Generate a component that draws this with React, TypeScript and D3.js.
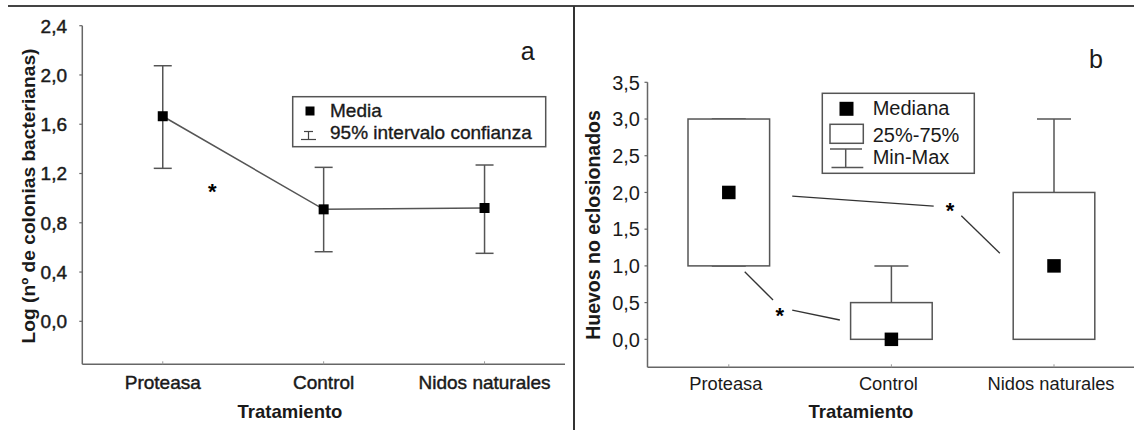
import React from "react";
import * as d3 from "d3";

// ---------- data ----------
const categories = ["Proteasa", "Control", "Nidos naturales"];

// panel a: mean and 95% CI of log(nº colonias bacterianas)
const meanA = [1.665, 0.909, 0.92];
const ciLowA = [1.242, 0.565, 0.552];
const ciHighA = [2.075, 1.25, 1.269];
const ticksA = [0, 0.4, 0.8, 1.2, 1.6, 2.0, 2.4];

// panel b: huevos no eclosionados
const medianB = [2, 0, 1];
const q1B = [1, 0, 0];
const q3B = [3, 0.5, 2];
const minB = [1, 0, 0];
const maxB = [3, 1, 3];
const ticksB = [0, 0.5, 1.0, 1.5, 2.0, 2.5, 3.0, 3.5];

// significance annotations (category-index units, data values)
const starsA = [[0.308, 1.093]];
const starsB = [[1.36, 1.82], [0.314, 0.399]];
const sigLinesB = [
  [[0.39, 1.95], [1.26, 1.815]],
  [[1.43, 1.683], [1.667, 1.171]],
  [[0.098, 0.921], [0.272, 0.535]],
  [[0.39, 0.399], [0.683, 0.263]],
];

const FONT = "'Liberation Sans', Arial, Helvetica, sans-serif";
const fmt = (v: number) => d3.format(".1f")(v).replace(".", ",");

export default function App() {
  // ---- panel a scales ----
  const xA = d3.scaleLinear().domain([-0.5, 2.5]).range([82.3, 565]);
  const yA = d3.scaleLinear().domain([-0.349, 2.4]).range([364.3, 25.7]);
  // ---- panel b scales ----
  const xB = d3.scaleLinear().domain([-0.5, 2.5]).range([647.5, 1135.3]);
  const yB = d3.scaleLinear().domain([-0.381, 3.5]).range([367.3, 82.3]);

  const lineA = d3
    .line<number>()
    .x((_, i) => xA(i))
    .y((d) => yA(d));

  const axisCol = "#666";
  const markCol = "#555";
  const textCol = "#1a1a1a";
  const capA = 9;
  const capB = 17;
  const boxHalf = 40.8;
  const sq = 13.5;

  return (
    <svg
      width={1134}
      height={430}
      style={{ position: "absolute", left: 0, top: 0, background: "#fff" }}
      fontFamily={FONT}
    >
      <rect x={0} y={0} width={1134} height={430} fill="#fff" />
      {/* frame lines */}
      <line x1={8} x2={1134} y1={6} y2={6} stroke="#444" strokeWidth={2} />
      <line x1={574} x2={574} y1={6} y2={430} stroke="#333" strokeWidth={2} />

      {/* ================= PANEL A ================= */}
      <g>
        {/* axes */}
        <line x1={xA.range()[0]} x2={xA.range()[0]} y1={yA(2.4)} y2={yA.range()[0]} stroke={axisCol} strokeWidth={1.5} />
        <line x1={xA.range()[0]} x2={xA.range()[1]} y1={yA.range()[0]} y2={yA.range()[0]} stroke={axisCol} strokeWidth={1.5} />
        {ticksA.map((t) => (
          <g key={t}>
            <line x1={xA.range()[0] - 3} x2={xA.range()[0]} y1={yA(t)} y2={yA(t)} stroke={axisCol} strokeWidth={1.2} />
            <text
              x={67}
              y={yA(t)}
              dy="0.36em"
              textAnchor="end"
              fontSize={19}
              fill={textCol}
              stroke={textCol}
              strokeWidth={0.45}
            >
              {fmt(t)}
            </text>
          </g>
        ))}
        {categories.map((c, i) => (
          <g key={c}>
            <line x1={xA(i)} x2={xA(i)} y1={yA.range()[0]} y2={yA.range()[0] - 3} stroke="#999" strokeWidth={1} />
            <text
              x={xA(i)}
              y={389.3}
              textAnchor="middle"
              fontSize={19}
              fill={textCol}
              stroke={textCol}
              strokeWidth={0.45}
            >
              {c}
            </text>
          </g>
        ))}
        <text x={290} y={418.3} textAnchor="middle" fontSize={18.5} fontWeight="bold" fill={textCol}>
          Tratamiento
        </text>
        <text
          transform={`translate(35,196) rotate(-90)`}
          textAnchor="middle"
          fontSize={19.2}
          fontWeight="bold"
          fill={textCol}
        >
          Log (nº de colonias bacterianas)
        </text>

        {/* mean line */}
        <path d={lineA(meanA) || ""} fill="none" stroke={markCol} strokeWidth={1.5} />
        {/* error bars */}
        {categories.map((c, i) => (
          <g key={"eb" + c} stroke={markCol} strokeWidth={1.5}>
            <line x1={xA(i)} x2={xA(i)} y1={yA(ciLowA[i])} y2={yA(ciHighA[i])} />
            <line x1={xA(i) - capA} x2={xA(i) + capA} y1={yA(ciLowA[i])} y2={yA(ciLowA[i])} />
            <line x1={xA(i) - capA} x2={xA(i) + capA} y1={yA(ciHighA[i])} y2={yA(ciHighA[i])} />
          </g>
        ))}
        {meanA.map((m, i) => (
          <rect key={"m" + i} x={xA(i) - 5} y={yA(m) - 5} width={10} height={10} fill="#000" />
        ))}
        {starsA.map(([cx, cy], i) => (
          <text key={"sa" + i} x={xA(cx)} y={yA(cy) + 12.5} textAnchor="middle" fontSize={22} fontWeight="bold" fill="#000">
            *
          </text>
        ))}

        {/* label a */}
        <text x={527.7} y={60} textAnchor="middle" fontSize={25} fill={textCol}>
          a
        </text>

        {/* legend a */}
        <rect x={292.7} y={96.7} width={253} height={50} fill="#fff" stroke={markCol} strokeWidth={1.5} />
        <rect x={305.5} y={106.5} width={9} height={9} fill="#000" />
        <g stroke="#444" strokeWidth={1.2}>
          <line x1={304} x2={313} y1={131.5} y2={131.5} />
          <line x1={308.5} x2={308.5} y1={131.5} y2={139.5} />
          <line x1={301} x2={316} y1={139.5} y2={139.5} />
        </g>
        <text x={330} y={116.7} fontSize={19} fill={textCol} stroke={textCol} strokeWidth={0.35}>
          Media
        </text>
        <text x={330} y={139.3} fontSize={19} fill={textCol} stroke={textCol} strokeWidth={0.35}>
          95% intervalo confianza
        </text>
      </g>

      {/* ================= PANEL B ================= */}
      <g>
        <line x1={xB.range()[0]} x2={xB.range()[0]} y1={yB(3.5)} y2={yB.range()[0]} stroke={axisCol} strokeWidth={1.5} />
        <line x1={xB.range()[0]} x2={1134} y1={yB.range()[0]} y2={yB.range()[0]} stroke={axisCol} strokeWidth={1.5} />
        {ticksB.map((t) => (
          <g key={t}>
            <line x1={xB.range()[0] - 3} x2={xB.range()[0]} y1={yB(t)} y2={yB(t)} stroke={axisCol} strokeWidth={1.2} />
            <text x={640} y={yB(t)} dy="0.36em" textAnchor="end" fontSize={20} fill={textCol}>
              {fmt(t)}
            </text>
          </g>
        ))}
        {categories.map((c, i) => (
          <g key={"xb" + c}>
            <line x1={xB(i)} x2={xB(i)} y1={yB.range()[0]} y2={yB.range()[0] - 3} stroke="#999" strokeWidth={1} />
            <text x={xB(i) - 3} y={390} textAnchor="middle" fontSize={18.3} fill={textCol}>
              {c}
            </text>
          </g>
        ))}
        <text x={861} y={417.7} textAnchor="middle" fontSize={18.5} fontWeight="bold" fill={textCol}>
          Tratamiento
        </text>
        <text
          transform={`translate(600,225) rotate(-90)`}
          textAnchor="middle"
          fontSize={19.5}
          fontWeight="bold"
          fill={textCol}
        >
          Huevos no eclosionados
        </text>

        {/* whiskers + boxes */}
        {categories.map((c, i) => (
          <g key={"bx" + c} stroke={markCol} strokeWidth={1.5}>
            <line x1={xB(i)} x2={xB(i)} y1={yB(q3B[i])} y2={yB(maxB[i])} />
            <line x1={xB(i)} x2={xB(i)} y1={yB(q1B[i])} y2={yB(minB[i])} />
            <line x1={xB(i) - capB} x2={xB(i) + capB} y1={yB(maxB[i])} y2={yB(maxB[i])} />
            <line x1={xB(i) - capB} x2={xB(i) + capB} y1={yB(minB[i])} y2={yB(minB[i])} />
            <rect
              x={xB(i) - boxHalf}
              y={yB(q3B[i])}
              width={boxHalf * 2}
              height={yB(q1B[i]) - yB(q3B[i])}
              fill="#fff"
            />
          </g>
        ))}
        {medianB.map((m, i) => (
          <rect key={"md" + i} x={xB(i) - sq / 2} y={yB(m) - sq / 2} width={sq} height={sq} fill="#000" />
        ))}

        {/* significance annotations */}
        {sigLinesB.map(([[ax, ay], [bx, by]], i) => (
          <line key={"sl" + i} x1={xB(ax)} y1={yB(ay)} x2={xB(bx)} y2={yB(by)} stroke="#333" strokeWidth={1.3} />
        ))}
        {starsB.map(([cx, cy], i) => (
          <text key={"sb" + i} x={xB(cx)} y={yB(cy) + 12.5} textAnchor="middle" fontSize={22} fontWeight="bold" fill="#000">
            *
          </text>
        ))}

        {/* label b */}
        <text x={1096} y={68.3} textAnchor="middle" fontSize={25} fill={textCol}>
          b
        </text>

        {/* legend b */}
        <rect x={822.3} y={93.3} width={152} height={80} fill="#fff" stroke={markCol} strokeWidth={1.5} />
        <rect x={839.5} y={101.8} width={14} height={14} fill="#000" />
        <rect x={830} y={124.3} width={33.3} height={19} fill="#fff" stroke={markCol} strokeWidth={1.5} />
        <g stroke={markCol} strokeWidth={1.5}>
          <line x1={830} x2={862} y1={149} y2={149} />
          <line x1={845.7} x2={845.7} y1={149} y2={167.5} />
          <line x1={831.5} x2={863.3} y1={167.5} y2={167.5} />
        </g>
        <text x={872.7} y={115} fontSize={20} fill={textCol}>
          Mediana
        </text>
        <text x={872.7} y={141.7} fontSize={20} fill={textCol}>
          25%-75%
        </text>
        <text x={872.7} y={163.8} fontSize={20} fill={textCol}>
          Min-Max
        </text>
      </g>
    </svg>
  );
}
